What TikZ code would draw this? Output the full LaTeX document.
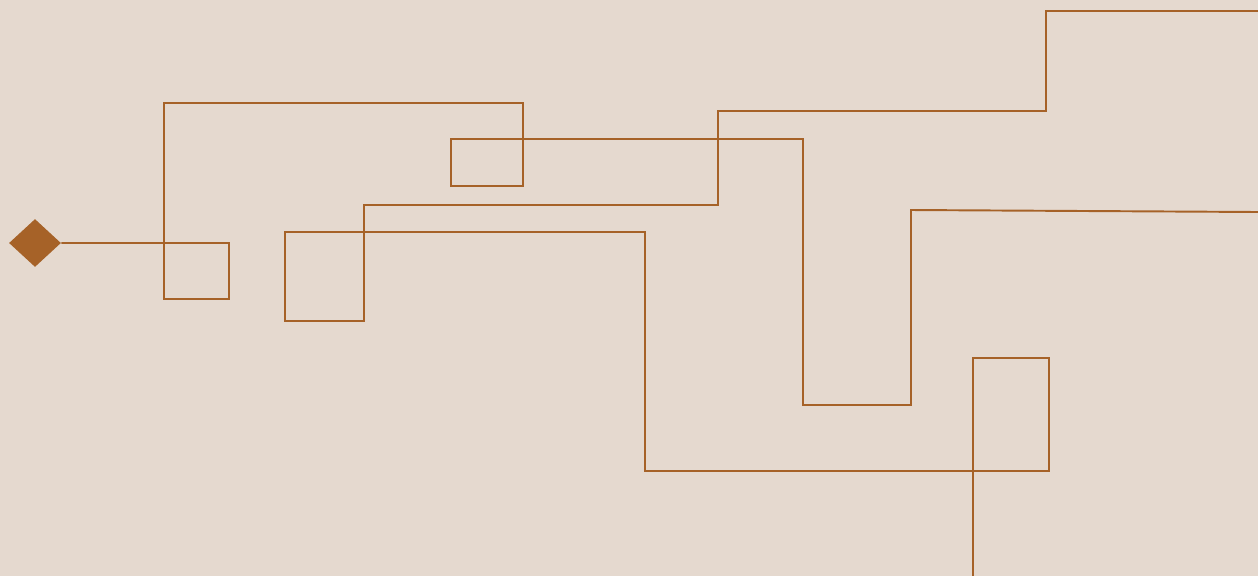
\documentclass[tikz,border=0pt]{standalone}
\usepackage{tikz}
\usetikzlibrary{shapes.geometric}
\usepackage{xcolor}
\definecolor{wirebg}{RGB}{229, 217, 207}
\definecolor{wirebrown}{RGB}{166, 98, 40}

\begin{document}
\begin{tikzpicture}[
      x=0.02cm, y=-0.02cm,
      wire/.style={draw=wirebrown, line width=1.1pt, line join=miter},
      startpin/.style={diamond, fill=wirebrown, inner sep=0pt, minimum width=1.04cm, minimum height=0.96cm}
    ]
      \fill[wirebg] (0, 0) rectangle (1258, 576);
      \useasboundingbox (0, 0) rectangle (1258, 576);

      \node[startpin] (start) at (35, 243) {};
      \coordinate (endA) at (1258, 212);
      \coordinate (topB) at (1258, 11);
      \coordinate (endB) at (973, 576);

      % first wire, from the pin
      \draw[wire] (start.east) -- (229, 243) -- (229, 299) -- (164, 299) -- (164, 103)
        -- (523, 103) -- (523, 186) -- (451, 186) -- (451, 139) -- (803, 139)
        -- (803, 405) -- (911, 405) -- (911, 210) -- (endA);

      % second wire, from the top edge
      \draw[wire] (topB) -- (1046, 11) -- (1046, 111) -- (718, 111) -- (718, 205)
        -- (364, 205) -- (364, 321) -- (285, 321) -- (285, 232) -- (645, 232)
        -- (645, 471) -- (1049, 471) -- (1049, 358) -- (973, 358) -- (endB);
    \end{tikzpicture}
\end{document}
